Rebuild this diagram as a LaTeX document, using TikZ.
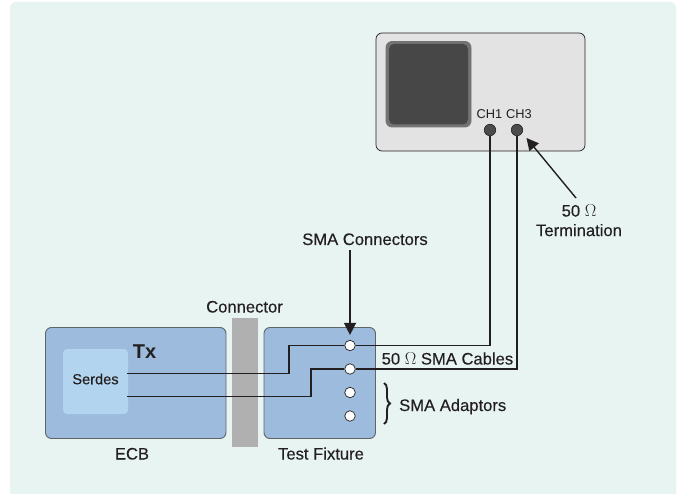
\documentclass[tikz,border=0pt]{standalone}
\usepackage{fontspec}
\setmainfont{Liberation Sans}
\newfontfamily\heavy[FakeBold=0.25]{Liberation Sans}
\usetikzlibrary{arrows.meta,decorations.pathreplacing}
\definecolor{bgc}{HTML}{E7F4F2}
\definecolor{bluebox}{HTML}{9DBBDC}
\definecolor{lightbox}{HTML}{B2D4EF}
\definecolor{edgeg}{HTML}{5F6468}
\definecolor{ink}{HTML}{231F20}
\tikzset{x=1pt,y=-1pt,
  board/.style={draw=edgeg,line width=0.9pt,fill=bluebox,rounded corners=6pt},
  wire/.style={draw=ink,line width=1.5pt},
  pt/.style={circle,draw=ink,line width=0.7pt,fill=white,minimum size=10.5pt,inner sep=0pt},
  jack/.style={circle,draw=ink,line width=0.6pt,fill=black!70,minimum size=11.5pt,inner sep=0pt},
  lbl/.style={font=\heavy\fontsize{16.6pt}{19.5pt}\selectfont,text=ink,inner sep=0pt,align=center},
  onel/.style={lbl,text height=12pt,text depth=0pt},
  callout/.style={draw=ink,line width=1.4pt,-{Triangle[length=12pt,width=12pt]}}}
\begin{document}
\begin{tikzpicture}
\useasboundingbox (0,0) rectangle (680,494);
\fill[white] (0,0) rectangle (680,494);
\fill[bgc,rounded corners=6pt] (10,2) rectangle (676,500);
% scope
\draw[draw=ink,line width=0.7pt,fill=black!11,rounded corners=6pt] (376,33) rectangle (585,151);
\draw[draw=black!55,line width=0.8pt,fill=black!55,rounded corners=6pt] (386,41.5) rectangle (471,127);
\fill[black!72,rounded corners=5pt] (389,44) rectangle (468,124.5);
\node[onel,font=\fontsize{12.8pt}{15pt}\selectfont,text height=9.2pt] (ch1) at (489.5,113.5) {CH1};
\node[onel,font=\fontsize{12.8pt}{15pt}\selectfont,text height=9.2pt] (ch3) at (519,113.5) {CH3};
\node[jack] (j1) at (490,130) {};
\node[jack] (j3) at (517,130) {};
% boards
\draw[board] (45.5,327.5) rectangle (226,438.5);
\fill[lightbox,rounded corners=4pt] (63,349) rectangle (128,414);
\fill[black!31] (232,318) rectangle (258,447);
\draw[board] (264,327.5) rectangle (375.5,438.5);
\node[lbl,font=\bfseries\fontsize{20pt}{24pt}\selectfont] (tx) at (144.5,351.5) {Tx};
\node[onel,font=\heavy\fontsize{14.6pt}{17pt}\selectfont,text height=10.5pt] (serdes) at (95.5,379) {Serdes};
\node[onel] (conn) at (244.5,306.5) {Connector};
\node[onel] (ecb) at (132,453.5) {ECB};
\node[onel] (tf) at (321,453.5) {Test Fixture};
\coordinate (s1) at (127,373.5);
\coordinate (s2) at (127,396.5);
\node[pt] (p1) at (350,345.5) {};
\node[pt] (p2) at (350,369) {};
\node[pt] (p3) at (350,392.5) {};
\node[pt] (p4) at (350,416) {};
% wires
\draw[wire] (s1) -- (289,373.5) -- (289,345.5) -- (p1.west);
\draw[wire] (s2) -- (311,396.5) -- (311,369) -- (p2.west);
\draw[wire] (p1.east) -| (j1.south);
\draw[wire] (p2.east) -| (j3.south);
% labels
\node[onel] (smac) at (365,239) {SMA Connectors};
\draw[callout,shorten >=5pt] (p1.north |- smac.south) ++(0,5) -- (p1.north);
\node[lbl] (term) at (579,220.5) {50 $\Omega$\\Termination};
\coordinate (tstart) at (576,198);
\coordinate (ttip) at (526.5,138);
\draw[callout] (tstart) -- (ttip);
\node[onel,anchor=west] (cab) at (381.5,358.5) {50 $\Omega$ SMA Cables};
\node[onel,anchor=west] (ada) at (399,405) {SMA Adaptors};
\draw[draw=ink,line width=1.9pt,decorate,decoration={brace,amplitude=6pt}] (384,383) -- (384,424);
\end{tikzpicture}
\end{document}
